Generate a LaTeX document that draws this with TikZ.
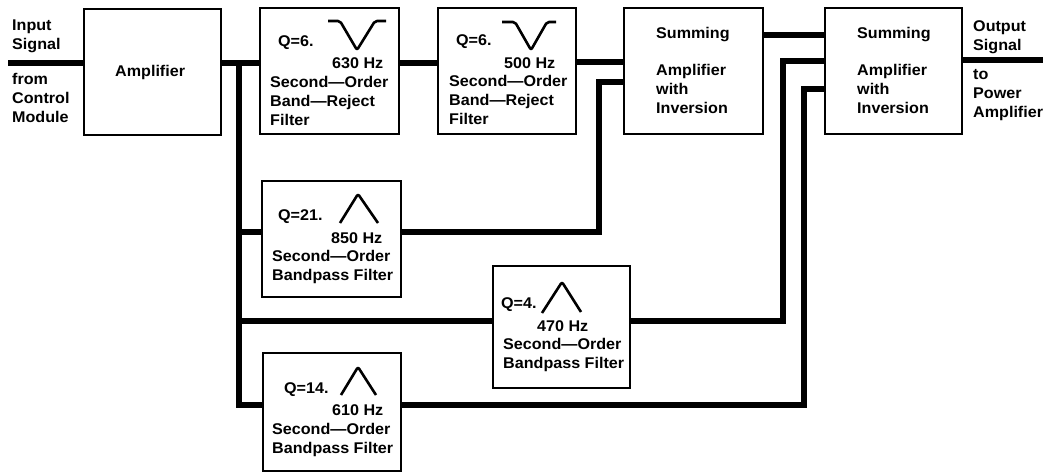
\documentclass[tikz,border=0pt]{standalone}
\usepackage{fontspec}
\setmainfont[FakeStretch=1.04]{Liberation Sans}
\tikzset{
  x=1pt,y=-1pt,
  block/.style={draw=black,line width=2pt,fill=white,anchor=north west,inner sep=0,outer sep=0,minimum width=#1,minimum height=126pt},
  wire/.style={draw=black,line width=5.5pt,line cap=butt,line join=miter},
  curve/.style={draw=black,line width=2.6pt,line join=round,rounded corners=2pt},
  lbl/.style={anchor=base west,inner sep=0,align=left,font=\fontsize{15.5}{19}\selectfont\bfseries}
}
\begin{document}
\begin{tikzpicture}
\useasboundingbox (0,0) rectangle (1051,472);
% coordinates for free ends and bends
\coordinate (inp) at (8,63);
\coordinate (outp) at (1043,60);
\coordinate (trunk) at (239,63);
\coordinate (busa) at (239,232);
\coordinate (busb) at (239,321);
\coordinate (busc) at (239,405);
\coordinate (in1b) at (599,82);
\coordinate (in2b) at (783,61);
\coordinate (in2c) at (804,89);
% wires (behind the blocks)
\draw[wire] (inp) -- (84,63);
\draw[wire] (221,63) -- (260,63);
\draw[wire] (trunk) -- (busc) -- (263,405);
\draw[wire] (busa) -- (262,232);
\draw[wire] (busb) -- (493,321);
\draw[wire] (399,63) -- (438,63);
\draw[wire] (576,62) -- (624,62);
\draw[wire] (763,35) -- (825,35);
\draw[wire] (401,232) -| (in1b) -- (624,82);
\draw[wire] (630,321) -| (in2b) -- (825,61);
\draw[wire] (401,405) -| (in2c) -- (825,89);
\draw[wire] (962,60) -- (outp);
% blocks
\node[block=137pt] (amp) at (84,9) {};
\node[block=139pt] (f630) at (260,8) {};
\node[block=138pt] (f500) at (438,8) {};
\node[block=139pt] (sum1) at (624,8) {};
\node[block=137pt] (sum2) at (825,8) {};
\node[block=139pt,minimum height=116pt] (f850) at (262,181) {};
\node[block=137pt,minimum height=122pt] (f470) at (493,266) {};
\node[block=138pt,minimum height=118pt] (f610) at (263,353) {};
% labels
\node[lbl] (tin) at (12,49) {Input\\Signal};
\node[lbl] (tfrom) at (12,122) {from\\Control\\Module};
\node[lbl] (tamp) at (115,76) {Amplifier};
\node[lbl] (q630) at (278,46) {Q=6.};
\node[lbl] (h630) at (332,68) {630 Hz};
\node[lbl] (t630) at (270,125) {Second—Order\\Band—Reject\\Filter};
\node[lbl] (q500) at (456,45) {Q=6.};
\node[lbl] (h500) at (504,68) {500 Hz};
\node[lbl] (t500) at (449,124) {Second—Order\\Band—Reject\\Filter};
\node[lbl] (ts1a) at (656,38) {Summing};
\node[lbl] (ts1b) at (656,113) {Amplifier\\with\\Inversion};
\node[lbl] (ts2a) at (857,38) {Summing};
\node[lbl] (ts2b) at (857,113) {Amplifier\\with\\Inversion};
\node[lbl] (tout) at (973,50) {Output\\Signal};
\node[lbl] (tto) at (973,117) {to\\Power\\Amplifier};
\node[lbl] (q850) at (278,220) {Q=21.};
\node[lbl] (h850) at (331,243) {850 Hz};
\node[lbl] (t850) at (272,280) {Second—Order\\Bandpass Filter};
\node[lbl] (q470) at (501,308) {Q=4.};
\node[lbl] (h470) at (537,331) {470 Hz};
\node[lbl] (t470) at (503,368) {Second—Order\\Bandpass Filter};
\node[lbl] (q610) at (284,393) {Q=14.};
\node[lbl] (h610) at (332,415) {610 Hz};
\node[lbl] (t610) at (272,453) {Second—Order\\Bandpass Filter};
% filter response symbols
\draw[curve] (328,21) -- (340,21) -- (357,50) -- (375,21) -- (386,21);
\draw[curve] (502,22) -- (515,22) -- (531,50) -- (547,22) -- (556,22);
\draw[curve] (340,223) -- (358,194) -- (378,223);
\draw[curve] (542,313) -- (562,282) -- (581,312);
\draw[curve] (341,395) -- (358,367) -- (376,395);
\end{tikzpicture}
\end{document}
